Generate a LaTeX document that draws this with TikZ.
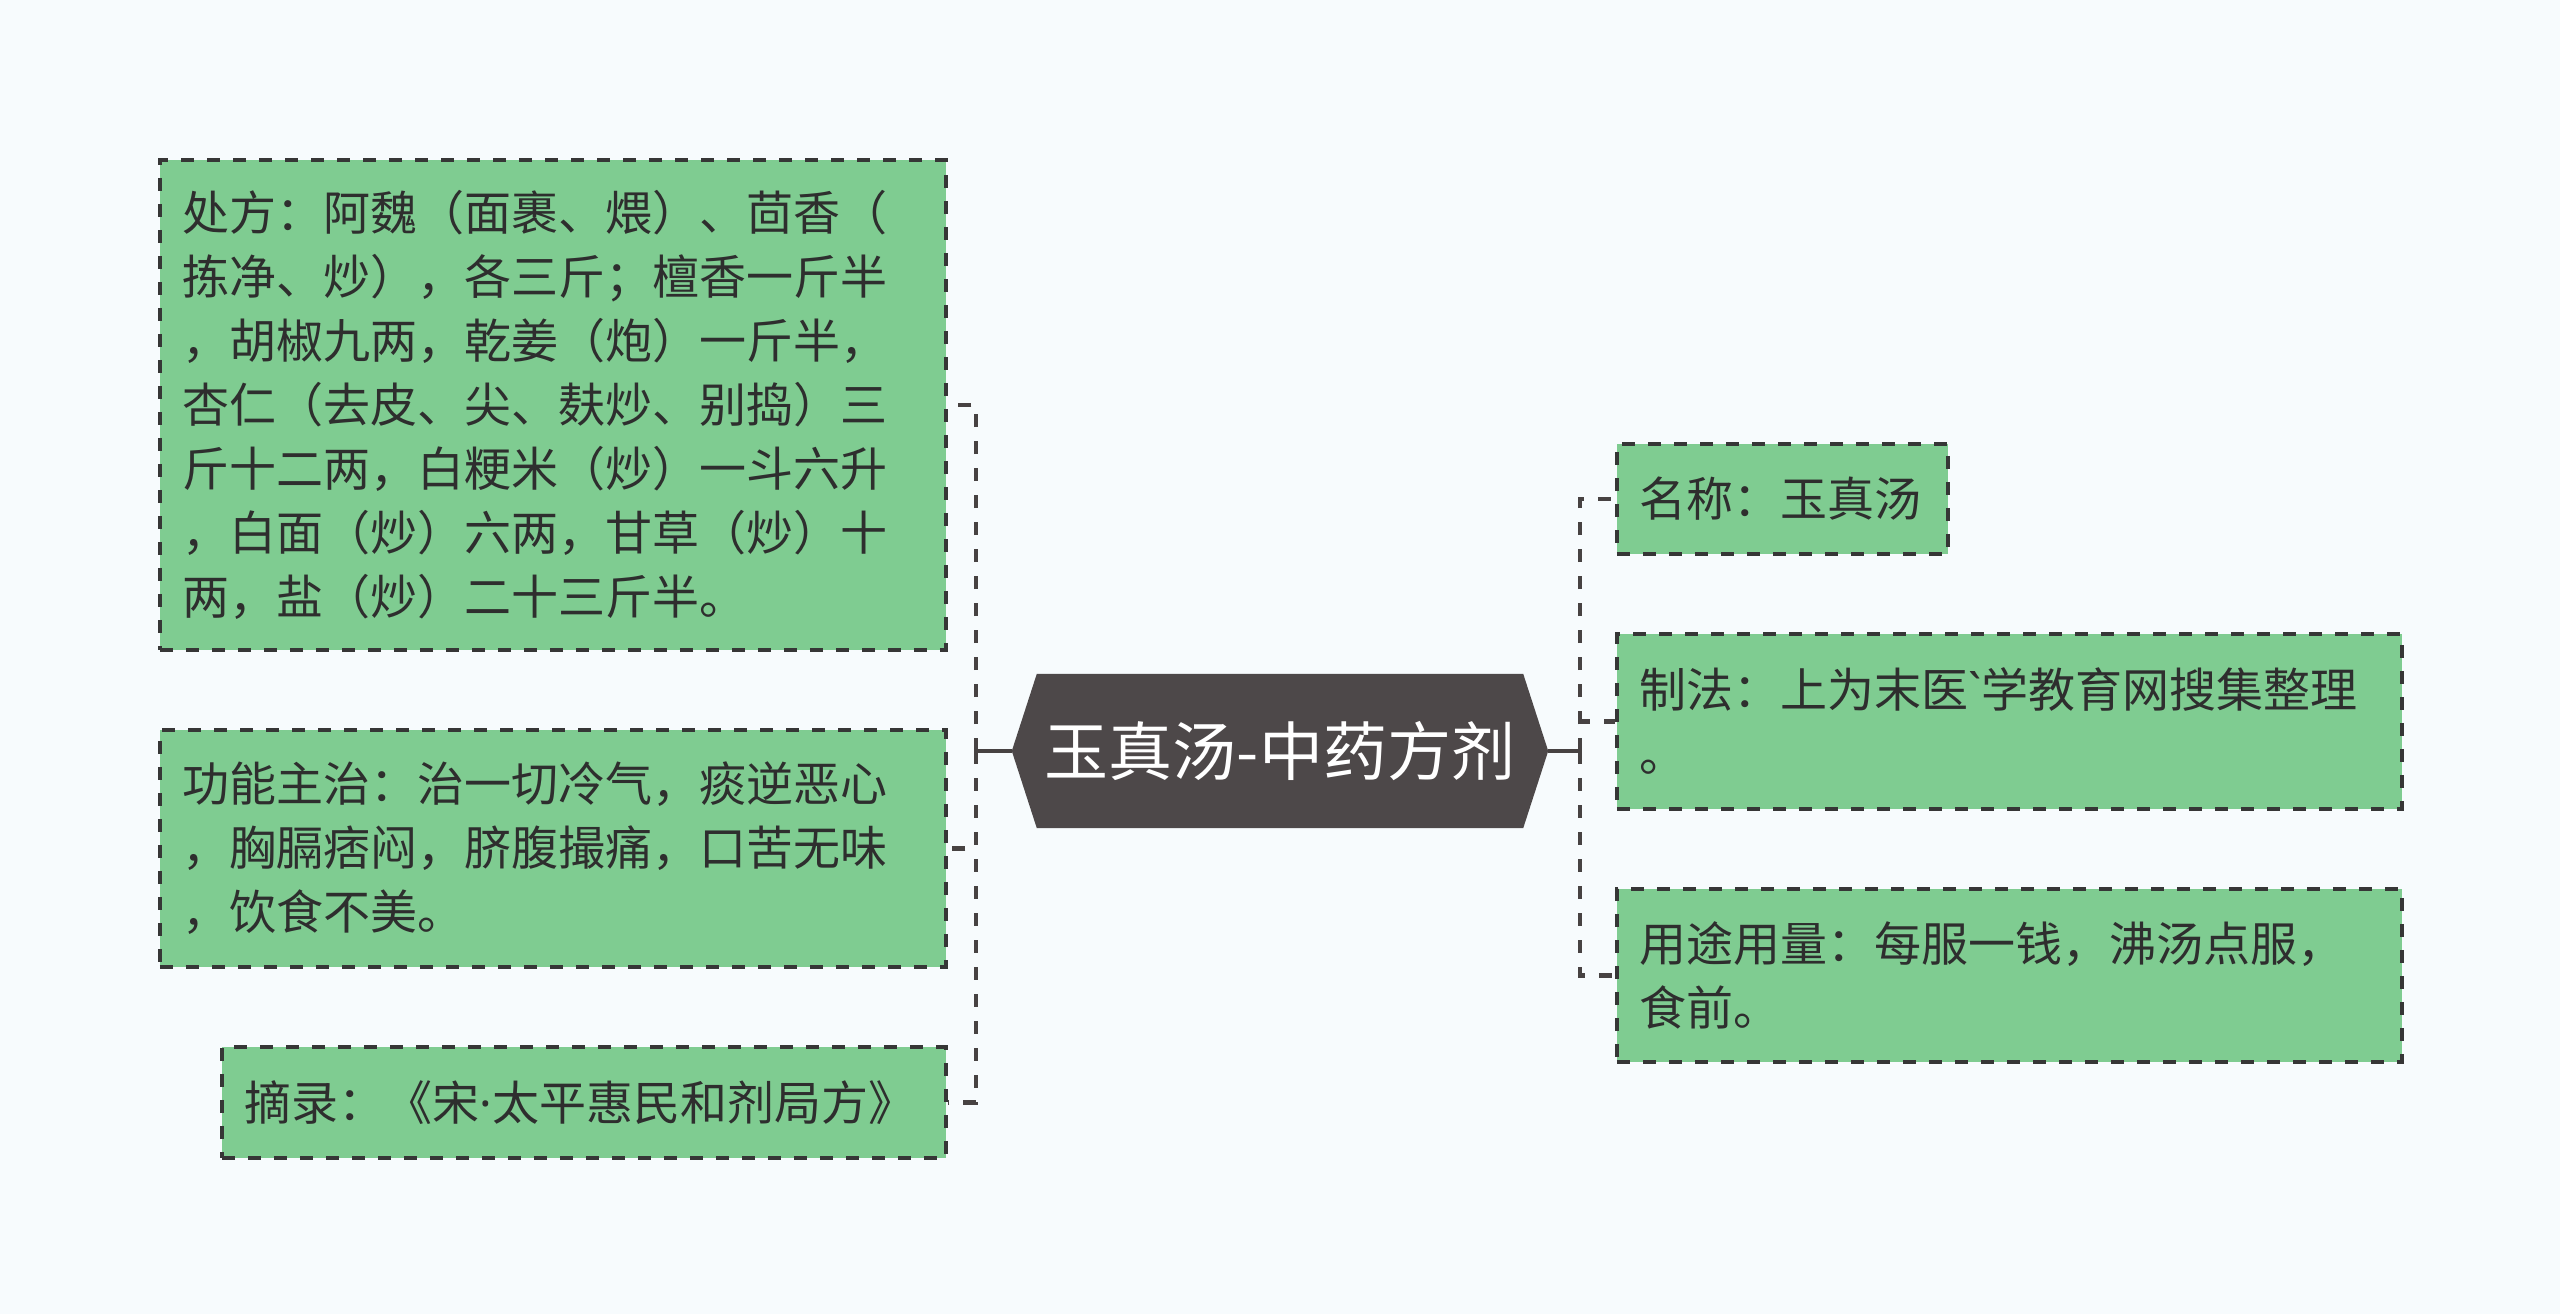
\documentclass[tikz,border=0pt]{standalone}
\usepackage{fontspec}
\setmainfont{Noto Sans CJK SC}[Ligatures=NoCommon]
\newfontfamily\latinfont{Noto Sans}
\definecolor{bg}{HTML}{F7FBFD}
\definecolor{leaf}{HTML}{7FCC91}
\definecolor{edgec}{HTML}{363636}
\definecolor{connc}{HTML}{474242}
\definecolor{rootc}{HTML}{4D4849}
\definecolor{txt}{HTML}{2E2E2E}
\begin{document}
\begin{tikzpicture}[x=1pt,y=-1pt,
  leafbox/.style={draw=edgec, line width=3.5pt, dash pattern=on 13pt off 13pt, fill=leaf,
    anchor=north west, align=left, inner xsep=23pt, inner ysep=0pt, text=txt,
    font=\fontsize{47}{64}\selectfont},
  conn/.style={draw=connc, line width=4.5pt, dash pattern=on 13pt off 14pt},
  solidconn/.style={draw=connc, line width=4.5pt}]
\fill[bg] (0,0) rectangle (2560,1314);
\useasboundingbox (0,0) rectangle (2560,1314);

% root
\node[minimum width=536pt, minimum height=154pt, inner sep=0pt] (root) at (1280,751) {};
\fill[rootc] (root.west) -- ([xshift=25pt]root.north west) -- ([xshift=-25pt]root.north east)
  -- (root.east) -- ([xshift=-25pt]root.south east) -- ([xshift=25pt]root.south west) -- cycle;
\node[text=white, font=\fontsize{64}{76}\selectfont, inner sep=0pt] (roottxt) at (root.center) {玉真汤-中药方剂};

% left boxes
\node[leafbox, text width=740pt, minimum height=490pt] (a1) at (158,158)
 {处方：阿魏（面裹、煨）、茴香（\\拣净、炒），各三斤；檀香一斤半\\，胡椒九两，乾姜（炮）一斤半，\\杏仁（去皮、尖、麸炒、别捣）三\\斤十二两，白粳米（炒）一斗六升\\，白面（炒）六两，甘草（炒）十\\两，盐（炒）二十三斤半。};
\node[leafbox, text width=740pt, minimum height=237pt] (a2) at (158,728)
 {功能主治：治一切冷气，痰逆恶心\\，胸膈痞闷，脐腹撮痛，口苦无味\\，饮食不美。};
\node[leafbox, text width=678pt, minimum height=111pt] (a3) at (220,1045)
 {摘录：《宋{\latinfont ·}太平惠民和剂局方》};

% right boxes
\node[leafbox, text width=285pt, minimum height=110pt] (b1) at (1615,442)
 {名称：玉真汤};
\node[leafbox, text width=739pt, minimum height=175pt] (b2) at (1615,632)
 {制法：上为末医{\latinfont\symbol{96}}学教育网搜集整理\\。};
\node[leafbox, text width=739pt, minimum height=173pt] (b3) at (1615,887)
 {用途用量：每服一钱，沸汤点服，\\食前。};

% connectors
\coordinate (tl) at (976,751);
\coordinate (tr) at (1580,751);
\draw[solidconn] (root.west) -- (tl);
\draw[solidconn] (root.east) -- (tr);
\draw[conn] (tl) |- (a1.east);
\draw[conn] (tl) |- (a2.east);
\draw[conn] (tl) |- (a3.east);
\draw[conn] (tr) |- (b1.west);
\draw[conn] (tr) |- (b2.west);
\draw[conn] (tr) |- (b3.west);
\end{tikzpicture}
\end{document}
